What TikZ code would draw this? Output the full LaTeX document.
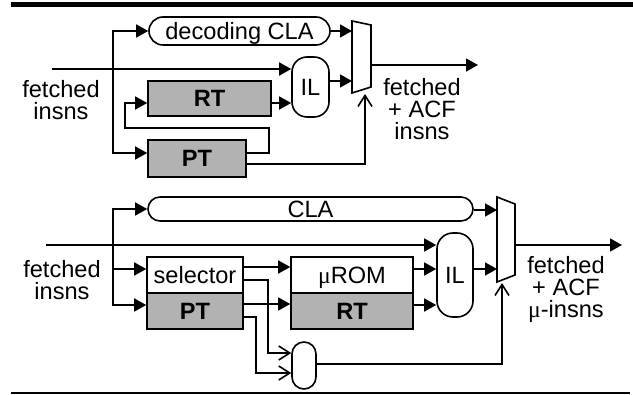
\documentclass[tikz,border=0pt]{standalone}
\usepackage{fontspec}
\setmainfont{Liberation Sans}
\newfontfamily\grk{Liberation Serif}
\usetikzlibrary{arrows.meta}
\definecolor{boxgray}{RGB}{178,178,178}
\newcommand\dfs{\fontsize{23.6}{22}\selectfont}
\begin{document}
\begin{tikzpicture}[x=1pt,y=-1pt,line width=1.6pt,font=\dfs,
  arr/.style={-{Triangle[length=12pt,width=13pt]}},
  oarr/.style={-{Straight Barb[length=11pt,width=14pt]}},
  blk/.style={draw,rectangle,inner sep=0pt,text height=16.9pt,text depth=0pt},
  gblk/.style={blk,fill=boxgray,font=\dfs\bfseries},
  lbl/.style={anchor=north,align=center,inner sep=0pt}]
\useasboundingbox (0,0) rectangle (633,395);
% rules
\fill (11,2.5) rectangle (633,7.5);
\draw[line width=1.8pt] (11,393) -- (630,393);

% ---------------- top diagram ----------------
\node[blk,minimum width=181pt,minimum height=28pt,rounded corners=14pt] (dcla) at (239.5,31) {decoding CLA};
\node[blk,minimum width=37pt,minimum height=60pt,rounded corners=15pt] (ilA) at (310.5,87) {IL};
\node[gblk,minimum width=123pt,minimum height=35pt] (rtA) at (209.5,98.5) {RT};
\node[gblk,minimum width=98pt,minimum height=37pt] (ptA) at (197,158.5) {PT};
\coordinate (mA1) at (352,21);
\coordinate (mA2) at (371,25);
\coordinate (mA3) at (371,87);
\coordinate (mA4) at (352,93);
\draw (mA1) -- (mA2) -- (mA3) -- (mA4) -- cycle;
\node[lbl] (lblinA) at (61,80) {fetched\\insns};
\node[lbl] (lbloutA) at (422,78) {fetched\\+ ACF\\insns};

\coordinate (inA) at (52,69);
\draw[arr] (inA) -- (inA -| ilA.west);
\coordinate (fA1) at (113,31);
\coordinate (fA2) at (113,153);
\draw[arr] (fA2) |- (dcla.west);
\draw[arr] (fA1) -- (fA2) -- (ptA.west |- fA2);
\draw[arr] (ptA.east |- fA2) -- (269,153) |- (125,128) |- (rtA.west |- 0,103);
\draw[arr] (rtA.east |- 0,103) -- (ilA.west |- 0,103);
\draw[oarr] (ptA.east |- 0,164) -| (365,94);
\draw[arr] (dcla.east) -- (dcla.east -| mA1);
\draw[arr] (ilA.east |- 0,81) -- (mA1 |- 0,81);
\coordinate (outA) at (478,65);
\draw[arr] (mA2 |- outA) -- (outA);

% ---------------- bottom diagram ----------------
\node[blk,minimum width=325pt,minimum height=24pt,rounded corners=12pt] (cla) at (310.5,209) {CLA};
\node[blk,minimum width=36pt,minimum height=84pt,rounded corners=16pt] (ilB) at (455,275) {IL};
\node[blk,fill=white,minimum width=96pt,minimum height=36pt] (sel) at (195,275) {selector};
\node[gblk,minimum width=96pt,minimum height=36pt] (ptB) at (195,311) {PT};
\node[blk,fill=white,minimum width=122pt,minimum height=36pt] (urom) at (352,275) {{\grk μ}ROM};
\node[gblk,minimum width=122pt,minimum height=36pt] (rtB) at (352,311) {RT};
\node[draw,minimum width=24pt,minimum height=47pt,rounded corners=12pt,inner sep=0pt] (comb) at (304,365.5) {};
\coordinate (mB1) at (497,197);
\coordinate (mB2) at (515,204);
\coordinate (mB3) at (515,275);
\coordinate (mB4) at (497,282);
\draw (mB1) -- (mB2) -- (mB3) -- (mB4) -- cycle;
\node[lbl] (lblinB) at (62,260) {fetched\\insns};
\node[lbl] (lbloutB) at (566,256) {fetched\\+ ACF\\{\grk μ}-insns};

\coordinate (inB) at (46,245);
\draw[arr] (inB) -- (inB -| ilB.west);
\coordinate (fB1) at (113,209);
\coordinate (fB2) at (113,305);
\draw[arr] (fB2) |- (cla.west);
\draw[arr] (fB1 |- 0,269) -- (sel.west |- 0,269);
\draw[arr] (fB1) -- (fB2) -- (ptB.west |- fB2);
\draw[arr] (sel.east |- 0,267) -- (urom.west |- 0,267);
\draw[arr] (ptB.east |- 0,304) -- (rtB.west |- 0,304);
\draw[oarr] (sel.east |- 0,280) -| (268,353) -- (comb.west |- 0,353);
\draw[oarr] (ptB.east |- 0,317) -| (256,373) -- (comb.west |- 0,373);
\draw[oarr] (comb.east |- 0,364) -| (502,283);
\draw[arr] (urom.east |- 0,269) -- (ilB.west |- 0,269);
\draw[arr] (rtB.east |- 0,305) -- (ilB.west |- 0,305);
\draw[arr] (cla.east |- 0,210) -- (mB1 |- 0,210);
\draw[arr] (ilB.east |- 0,269) -- (mB1 |- 0,269);
\coordinate (outB) at (622,245);
\draw[arr] (mB2 |- outB) -- (outB);
\end{tikzpicture}
\end{document}
